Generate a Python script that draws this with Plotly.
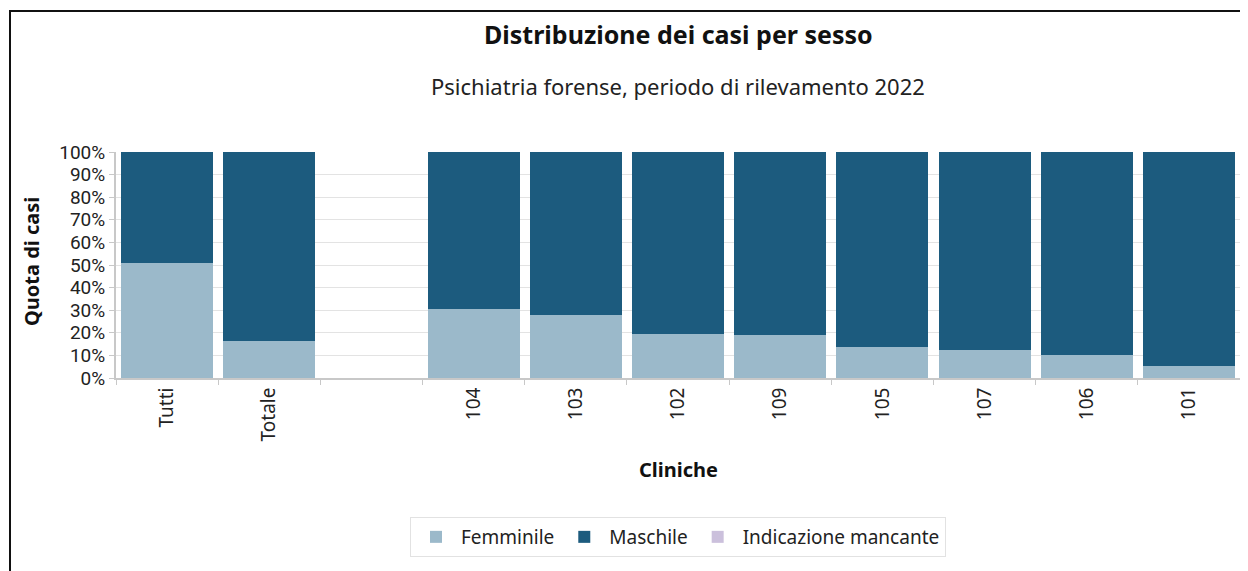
import plotly.graph_objects as go

categories = ["Tutti", "Totale", " ", "104", "103", "102", "109", "105", "107", "106", "101"]
femminile = [50.9, 16.4, None, 30.5, 27.9, 19.5, 19.0, 13.5, 12.2, 10.0, 5.5]
maschile = [49.1, 83.6, None, 69.5, 72.1, 80.5, 81.0, 86.5, 87.8, 90.0, 94.5]
mancante = [0, 0, None, 0, 0, 0, 0, 0, 0, 0, 0]

FONT = "Noto Sans"
fig = go.Figure()
fig.add_bar(x=categories, y=femminile, name="Femminile", marker_color="#9bb9ca",
            marker_line_width=0)
fig.add_bar(x=categories, y=maschile, name="Maschile", marker_color="#1c5b7e",
            marker_line_width=0)
fig.add_bar(x=categories, y=mancante, name="Indicazione mancante", marker_color="#cbc0dc",
            marker_line_width=0)

OFF = 8  # page body margin
W, H = 1240, 563
L, R, T = 108, 8, 144
ph = 226
B = H - T - ph
pw = W - L - R

def px_x(x):
    return (x - OFF - L) / pw

def px_y(y):
    return (OFF + T + ph - y) / ph

fig.update_layout(
    width=W, height=H,
    margin=dict(l=L, r=R, t=T, b=B),
    barmode="stack", bargap=0.1,
    plot_bgcolor="white", paper_bgcolor="white",
    font=dict(family=FONT, size=19, color="#222222"),
    showlegend=True,
    legend=dict(orientation="h", x=px_x(678), xanchor="center", y=px_y(537), yanchor="middle",
                bordercolor="#e2e2e2", borderwidth=1, bgcolor="white",
                font=dict(size=19, color="#222222"), itemwidth=40,
                traceorder="normal"),
    xaxis=dict(tickangle=-90, tickson="boundaries", ticks="outside", ticklen=5,
               tickcolor="#c8c8c8", showline=True, linecolor="#c8c8c8", linewidth=2,
               showgrid=False, tickfont=dict(size=19, color="#222222")),
    yaxis=dict(range=[0, 100], tickvals=list(range(0, 101, 10)),
               ticktext=[f"{v}%" for v in range(0, 101, 10)],
               ticks="outside", ticklen=5, tickcolor="#c8c8c8",
               showline=True, linecolor="#c8c8c8", linewidth=2,
               showgrid=True, gridcolor="#e3e3e3", gridwidth=1,
               tickfont=dict(family="Roboto", size=19, color="#222222"), zeroline=False),
)
fig.add_annotation(text="<b>Distribuzione dei casi per sesso</b>",
                   xref="paper", yref="paper", x=px_x(678), y=px_y(34), xanchor="center",
                   yanchor="middle", showarrow=False, font=dict(size=25, color="#111111"))
fig.add_annotation(text="Psichiatria forense, periodo di rilevamento 2022",
                   xref="paper", yref="paper", x=px_x(678), y=px_y(86), xanchor="center",
                   yanchor="middle", showarrow=False, font=dict(size=22, color="#222222"))
fig.add_annotation(text="<b>Cliniche</b>",
                   xref="paper", yref="paper", x=px_x(678), y=px_y(469), xanchor="center",
                   yanchor="middle", showarrow=False, font=dict(size=20, color="#111111"))
fig.add_annotation(text="<b>Quota di casi</b>", textangle=-90,
                   xref="paper", yref="paper", x=px_x(31), y=px_y(262), xanchor="center",
                   yanchor="middle", showarrow=False, font=dict(size=20, color="#111111"))
fig.add_shape(type="rect", xref="paper", yref="paper",
              x0=px_x(10), x1=px_x(1247), y0=px_y(590), y1=px_y(11),
              line=dict(color="#111111", width=2), fillcolor="rgba(0,0,0,0)", layer="above")

fig.write_html("out.html")
